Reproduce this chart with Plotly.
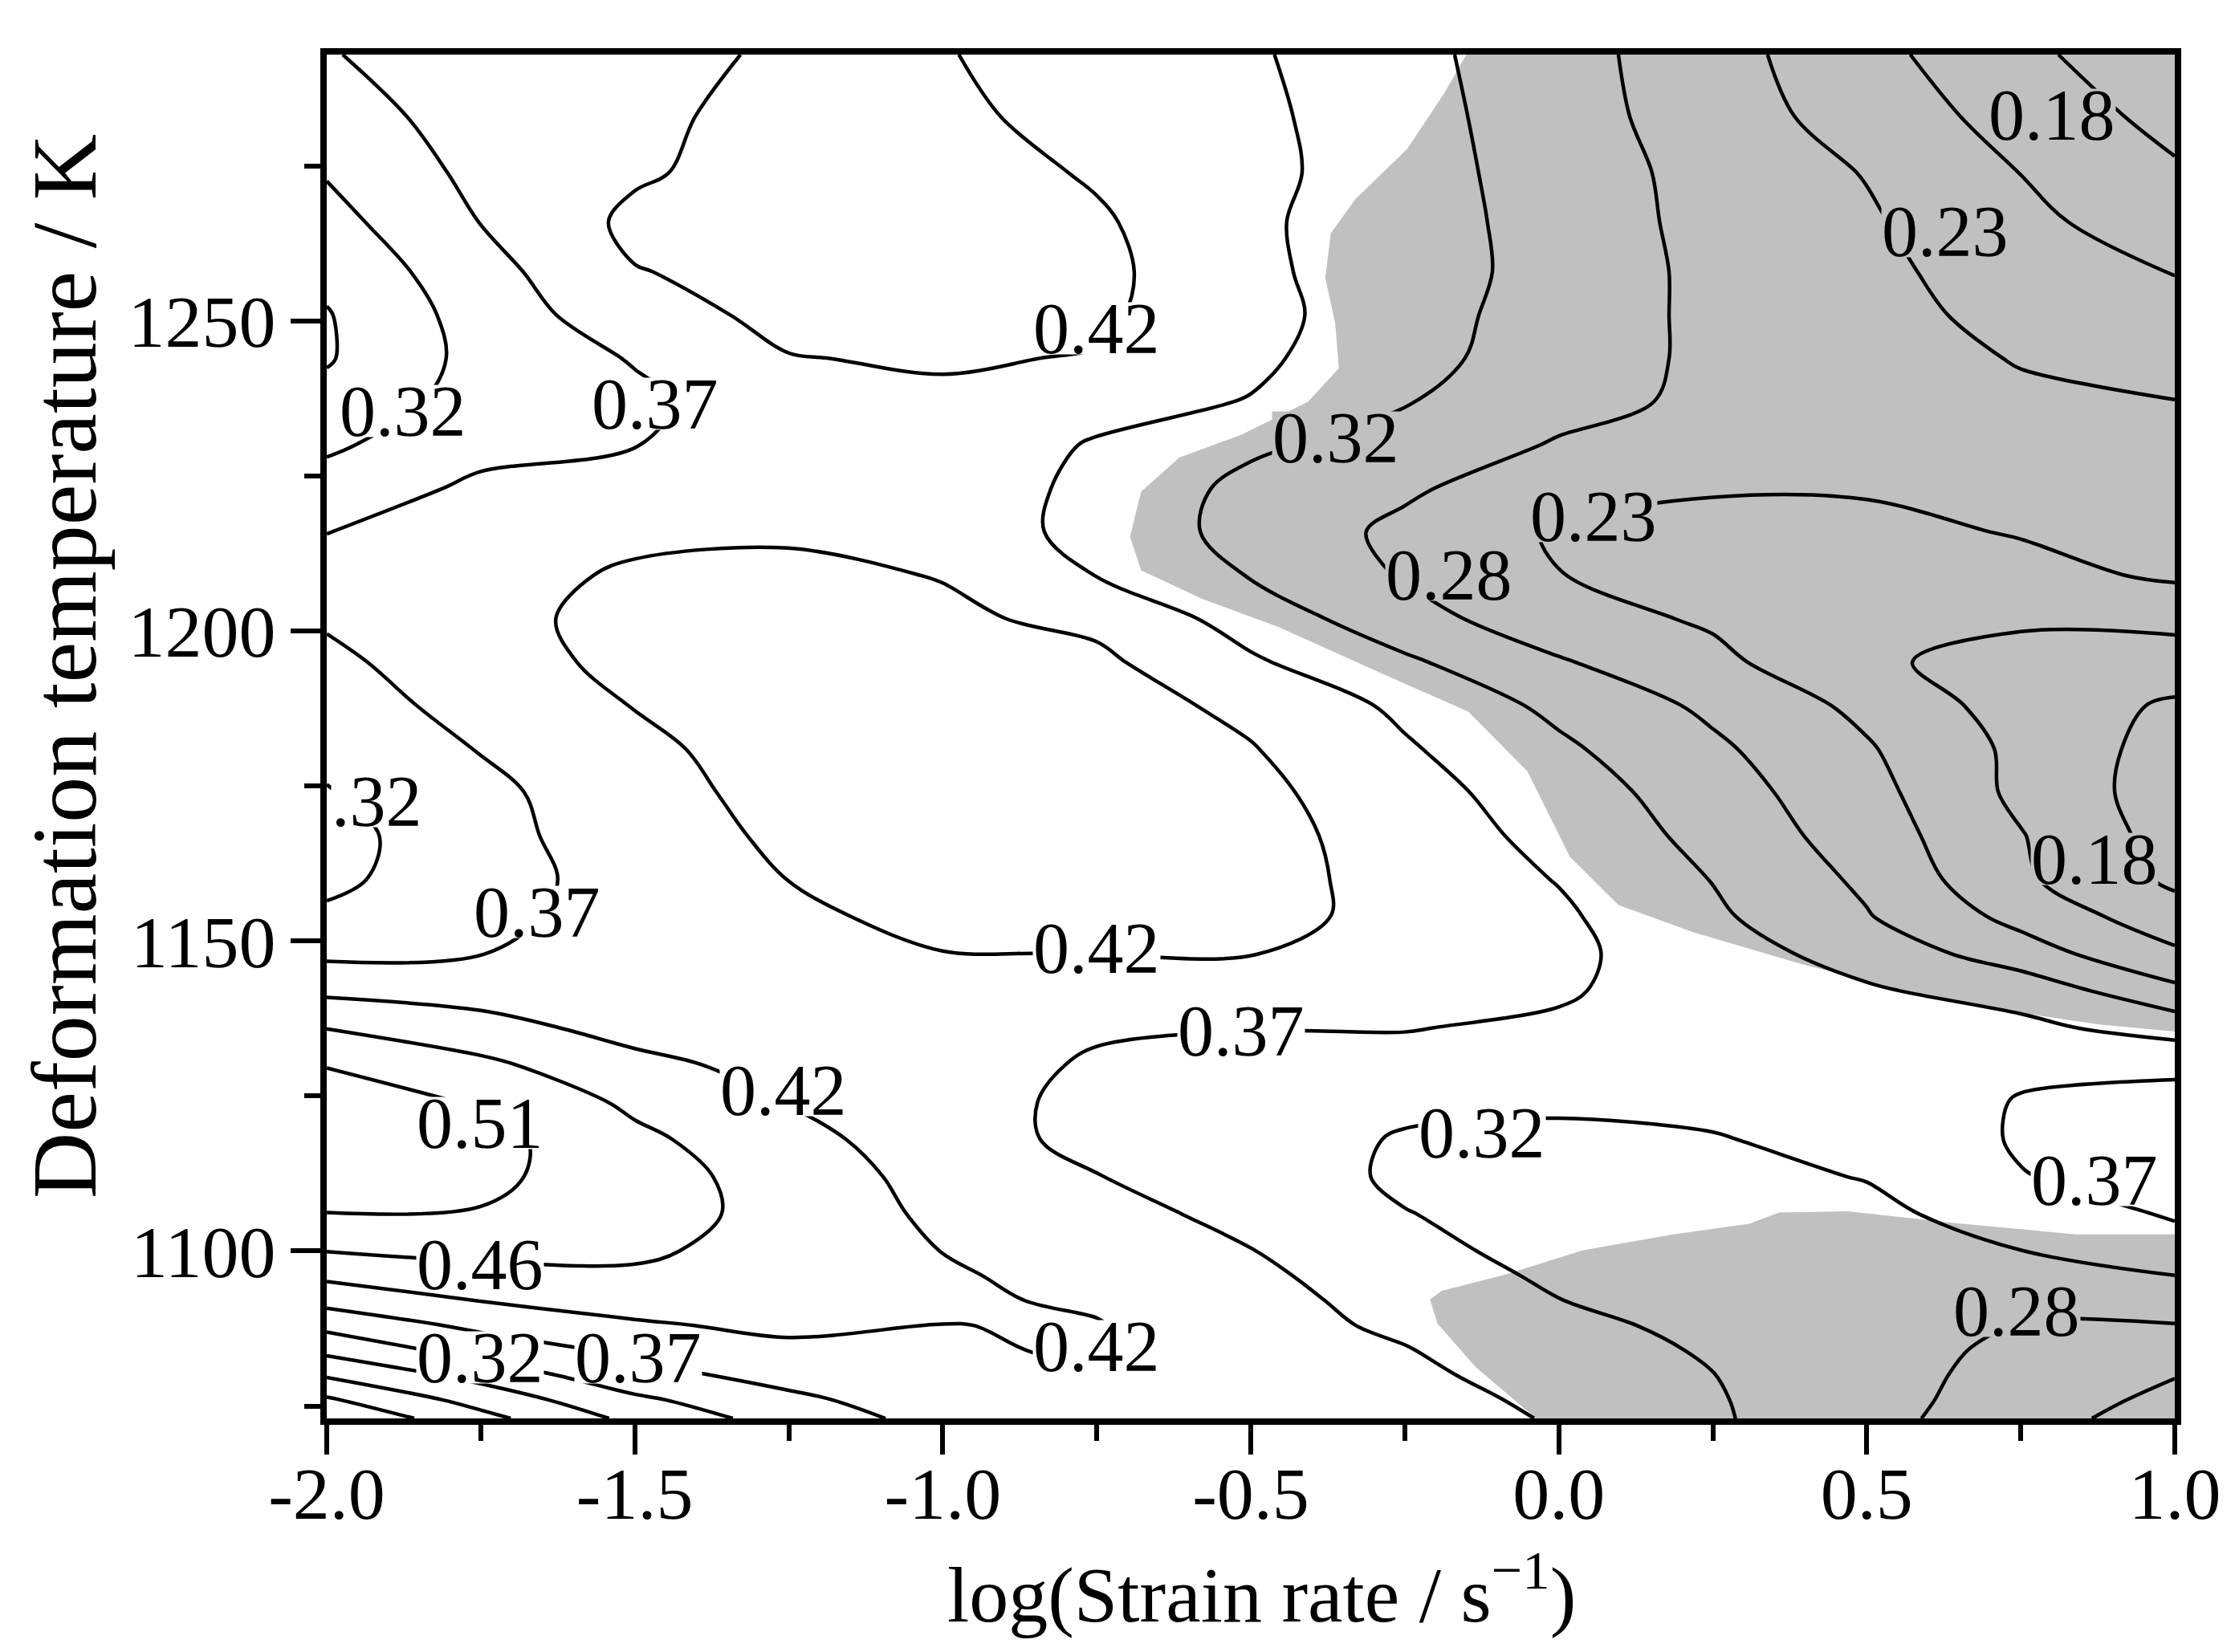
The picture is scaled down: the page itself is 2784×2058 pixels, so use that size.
import plotly.graph_objects as go

strain_rate_log = [-2.0, -1.75, -1.5, -1.25, -1.0, -0.75, -0.5, -0.25, 0.0, 0.25, 0.5, 0.75, 1.0]
temperature_K = [1073, 1076, 1080, 1084, 1088, 1092, 1096, 1100, 1106, 1112, 1118, 1124,
                 1130, 1136, 1142, 1148, 1154, 1160, 1167, 1174, 1181, 1188, 1195, 1202,
                 1209, 1216, 1223, 1230, 1237, 1244, 1251, 1258, 1266, 1274, 1283, 1293]

# power dissipation efficiency, one list per strain rate column (bottom -> top)
eta_m200 = [0.140, 0.1765, 0.2347, 0.2875, 0.3353, 0.3838, 0.4249, 0.463, 0.508, 0.530, 0.540, 0.530,
            0.507, 0.461, 0.4055, 0.3592, 0.3298, 0.312, 0.305, 0.320, 0.3336, 0.3466, 0.3597, 0.374,
            0.390, 0.368, 0.3418, 0.3151, 0.2896, 0.272, 0.273, 0.287, 0.3066, 0.3258, 0.3462, 0.366]
eta_m175 = [0.215, 0.2467, 0.2913, 0.3418, 0.380, 0.4165, 0.447, 0.4732, 0.506, 0.520, 0.525, 0.505,
            0.4726, 0.4321, 0.3968, 0.368, 0.358, 0.352, 0.356, 0.358, 0.371, 0.385, 0.395, 0.400,
            0.398, 0.390, 0.378, 0.355, 0.342, 0.337, 0.342, 0.352, 0.370, 0.381, 0.390, 0.395]
eta_m150 = [0.288, 0.313, 0.355, 0.380, 0.4097, 0.434, 0.457, 0.468, 0.478, 0.480, 0.472, 0.4533,
            0.428, 0.400, 0.397, 0.390, 0.386, 0.386, 0.390, 0.397, 0.405, 0.417, 0.428, 0.432,
            0.422, 0.405, 0.390, 0.368, 0.360, 0.372, 0.397, 0.414, 0.425, 0.410, 0.405, 0.395]
eta_m125 = [0.342, 0.360, 0.3834, 0.4056, 0.425, 0.435, 0.443, 0.448, 0.450, 0.445, 0.432, 0.414,
            0.400, 0.394, 0.394, 0.398, 0.410, 0.416, 0.425, 0.432, 0.437, 0.440, 0.440, 0.435,
            0.425, 0.410, 0.398, 0.392, 0.397, 0.414, 0.427, 0.428, 0.433, 0.435, 0.432, 0.425]
eta_m100 = [0.385, 0.392, 0.400, 0.408, 0.415, 0.422, 0.420, 0.415, 0.405, 0.397, 0.388, 0.393,
            0.396, 0.402, 0.408, 0.415, 0.424, 0.432, 0.440, 0.445, 0.445, 0.440, 0.432, 0.423,
            0.414, 0.402, 0.395, 0.398, 0.408, 0.420, 0.428, 0.435, 0.440, 0.440, 0.425, 0.418]
eta_m075 = [0.402, 0.407, 0.413, 0.422, 0.418, 0.410, 0.403, 0.390, 0.380, 0.370, 0.358, 0.354,
            0.362, 0.376, 0.395, 0.416, 0.428, 0.436, 0.440, 0.440, 0.435, 0.435, 0.425, 0.405,
            0.368, 0.352, 0.358, 0.365, 0.385, 0.413, 0.423, 0.428, 0.422, 0.410, 0.400, 0.395]
eta_m050 = [0.400, 0.398, 0.395, 0.390, 0.384, 0.382, 0.378, 0.370, 0.360, 0.352, 0.348, 0.350,
            0.358, 0.370, 0.395, 0.417, 0.427, 0.432, 0.432, 0.428, 0.418, 0.405, 0.375, 0.350,
            0.320, 0.308, 0.310, 0.330, 0.367, 0.378, 0.382, 0.377, 0.376, 0.382, 0.380, 0.375]
eta_m025 = [0.390, 0.385, 0.378, 0.371, 0.362, 0.355, 0.345, 0.335, 0.324, 0.314, 0.318, 0.333,
            0.353, 0.371, 0.382, 0.395, 0.405, 0.400, 0.395, 0.385, 0.374, 0.360, 0.330, 0.293,
            0.272, 0.265, 0.283, 0.303, 0.325, 0.338, 0.345, 0.348, 0.346, 0.343, 0.340, 0.336]
eta_p000 = [0.365, 0.360, 0.351, 0.342, 0.332, 0.323, 0.315, 0.308, 0.303, 0.305, 0.315, 0.328,
            0.345, 0.360, 0.376, 0.380, 0.376, 0.367, 0.355, 0.347, 0.3305, 0.3116, 0.280, 0.248,
            0.230, 0.224, 0.245, 0.272, 0.290, 0.298, 0.298, 0.303, 0.302, 0.300, 0.297, 0.294]
eta_p025 = [0.328, 0.326, 0.323, 0.318, 0.313, 0.310, 0.308, 0.308, 0.310, 0.315, 0.321, 0.328,
            0.332, 0.336, 0.338, 0.340, 0.330, 0.321, 0.3088, 0.2963, 0.2838, 0.2666, 0.2406, 0.223,
            0.215, 0.218, 0.232, 0.248, 0.267, 0.267, 0.267, 0.265, 0.262, 0.260, 0.251, 0.247]
eta_p050 = [0.290, 0.293, 0.297, 0.302, 0.306, 0.310, 0.313, 0.316, 0.316, 0.3235, 0.330, 0.335,
            0.337, 0.335, 0.327, 0.3066, 0.2786, 0.2672, 0.253, 0.2448, 0.2337, 0.218, 0.190, 0.185,
            0.195, 0.218, 0.233, 0.241, 0.245, 0.246, 0.245, 0.242, 0.235, 0.227, 0.210, 0.197]
eta_p075 = [0.250, 0.254, 0.257, 0.262, 0.273, 0.285, 0.305, 0.322, 0.335, 0.367, 0.374, 0.372,
            0.360, 0.333, 0.305, 0.250, 0.215, 0.190, 0.185, 0.172, 0.172, 0.162, 0.165, 0.190,
            0.215, 0.232, 0.237, 0.238, 0.236, 0.227, 0.215, 0.203, 0.192, 0.182, 0.165, 0.146]
eta_p100 = [0.205, 0.218, 0.231, 0.253, 0.274, 0.298, 0.322, 0.345, 0.375, 0.388, 0.390, 0.383,
            0.360, 0.304, 0.240, 0.190, 0.155, 0.127, 0.117, 0.113, 0.117, 0.130, 0.1605, 0.1957,
            0.236, 0.245, 0.250, 0.245, 0.230, 0.2137, 0.1976, 0.181, 0.1615, 0.1417, 0.122, 0.105]

# contour levels (0.14, 0.18, 0.23, 0.28, 0.32, 0.37, 0.42, 0.46, 0.51)
level_start = 0.136
level_end = 0.51
level_step = 0.0466

# contour value labels as printed on the map
label_text = ["0.18", "0.23", "0.42", "0.32", "0.37", "0.32", "0.23", "0.28", ".32", "0.37", "0.18",
              "0.42", "0.37", "0.42", "0.51", "0.32", "0.37", "0.46", "0.28", "0.42", "0.32", "0.37"]
label_x = [0.800, 0.627, -0.750, -1.876, -1.467, -0.362, 0.056, -0.178, -1.918, -1.659, 0.870,
           -0.750, -0.516, -1.259, -1.751, -0.125, 0.870, -1.751, 0.743, -0.750, -1.751, -1.494]
label_y = [1283.3, 1264.5, 1248.9, 1235.5, 1236.7, 1231.2, 1218.5, 1209.1, 1172.6, 1154.7, 1163.2,
           1148.9, 1135.6, 1126.0, 1120.7, 1119.1, 1111.5, 1097.8, 1090.4, 1084.7, 1082.8, 1082.8]
label_in_instability = [True, True, False, False, False, True, True, True, False, False, True,
                        False, False, False, False, False, False, False, True, False, False, False]

# instability domains (grey), boundary points in data units
instab_upper_x = [-0.15, -0.185, -0.246, -0.33, -0.37, -0.379, -0.363, -0.357, -0.407, -0.517,
                  -0.616, -0.678, -0.696, -0.678, -0.579, -0.456, -0.304, -0.147, -0.051, 0.018,
                  0.097, 0.219, 0.394, 0.568, 0.743, 0.88, 1.0, 1.0]
instab_upper_y = [1293, 1286.9, 1277.8, 1269.7, 1264.2, 1257.0, 1249.7, 1242.4, 1237.0, 1231.6,
                  1228.0, 1222.5, 1215.2, 1209.8, 1205.2, 1200.7, 1193.9, 1187.0, 1177.4, 1163.6,
                  1155.8, 1151.4, 1146.3, 1141.9, 1138.5, 1136.5, 1135.4, 1293]
instab_lower_x = [-0.037, -0.135, -0.197, -0.209, -0.19, -0.086, 0.038, 0.186, 0.309, 0.358,
                  0.469, 0.654, 0.839, 1.0, 1.0]
instab_lower_y = [1073, 1081.3, 1088.3, 1092.2, 1093.6, 1096.2, 1100.1, 1102.7, 1104.4, 1106.2,
                  1106.4, 1104.4, 1102.7, 1102.7, 1073]

x_tick_vals = [-2.0, -1.5, -1.0, -0.5, 0.0, 0.5, 1.0]
x_tick_text = ["-2.0", "-1.5", "-1.0", "-0.5", "0.0", "0.5", "1.0"]
x_minor_vals = [-1.75, -1.25, -0.75, -0.25, 0.25, 0.75]
y_tick_vals = [1100, 1150, 1200, 1250]
y_tick_text = ["1100", "1150", "1200", "1250"]
y_minor_vals = [1075, 1125, 1175, 1225, 1275]

x_range = [-2.0, 1.0]
y_range = [1073, 1293]

# ---------------- figure ----------------
GREY = "#c0c0c0"
FONT = "Liberation Serif"

columns = [eta_m200, eta_m175, eta_m150, eta_m125, eta_m100, eta_m075, eta_m050,
           eta_m025, eta_p000, eta_p025, eta_p050, eta_p075, eta_p100]
z = [[col[i] for col in columns] for i in range(len(temperature_K))]

fig = go.Figure()
fig.add_trace(go.Contour(
    x=strain_rate_log, y=temperature_K, z=z,
    autocontour=False,
    contours=dict(start=level_start, end=level_end, size=level_step,
                  coloring="none", showlabels=False),
    line=dict(color="black", width=4.5, smoothing=1.0),
    showscale=False, hoverinfo="skip",
))


def poly_path(xs, ys):
    return "M " + " L ".join(f"{a},{b}" for a, b in zip(xs, ys)) + " Z"


for xs, ys in [(instab_upper_x, instab_upper_y), (instab_lower_x, instab_lower_y)]:
    fig.add_shape(type="path", path=poly_path(xs, ys), xref="x", yref="y",
                  fillcolor=GREY, line=dict(width=0), layer="below")

for t, lx, ly, grey in zip(label_text, label_x, label_y, label_in_instability):
    fig.add_annotation(text=t, x=lx, y=ly, xref="x", yref="y", showarrow=False,
                       xanchor="center", yanchor="middle", valign="middle", height=64,
                       bgcolor=GREY if grey else "white", borderpad=0,
                       font=dict(family=FONT, size=90, color="black"))

axis_common = dict(showgrid=False, zeroline=False, showline=True, linecolor="black",
                   linewidth=8, mirror=True, ticks="outside", ticklen=37, tickwidth=6,
                   tickcolor="black", tickfont=dict(family=FONT, size=92, color="black"))

fig.update_xaxes(range=x_range, tickmode="array", tickvals=x_tick_vals, ticktext=x_tick_text,
                 minor=dict(tickmode="array", tickvals=x_minor_vals, ticks="outside",
                            ticklen=20, tickwidth=6, tickcolor="black"),
                 ticklabelstandoff=-30, **axis_common)
fig.update_yaxes(range=y_range, tickmode="array", tickvals=y_tick_vals, ticktext=y_tick_text,
                 minor=dict(tickmode="array", tickvals=y_minor_vals, ticks="outside",
                            ticklen=20, tickwidth=6, tickcolor="black"),
                 ticklabelstandoff=0, **axis_common)

fig.add_annotation(text="log(Strain rate / s<sup>\u22121</sup>)", xref="paper", yref="paper",
                   x=0.506, y=-0.125, xanchor="center", yanchor="middle", showarrow=False,
                   font=dict(family=FONT, size=98, color="black"))
fig.add_annotation(text="Deformation temperature / K", xref="paper", yref="paper",
                   x=-0.142, y=0.5515, xanchor="center", yanchor="middle", showarrow=False,
                   textangle=-90, font=dict(family=FONT, size=114, color="black"))

fig.update_layout(width=2784, height=2058,
                  margin=dict(l=399, r=83, t=60, b=299),
                  plot_bgcolor="white", paper_bgcolor="white",
                  font=dict(family=FONT, color="black"), showlegend=False)

fig.write_html("out.html")
